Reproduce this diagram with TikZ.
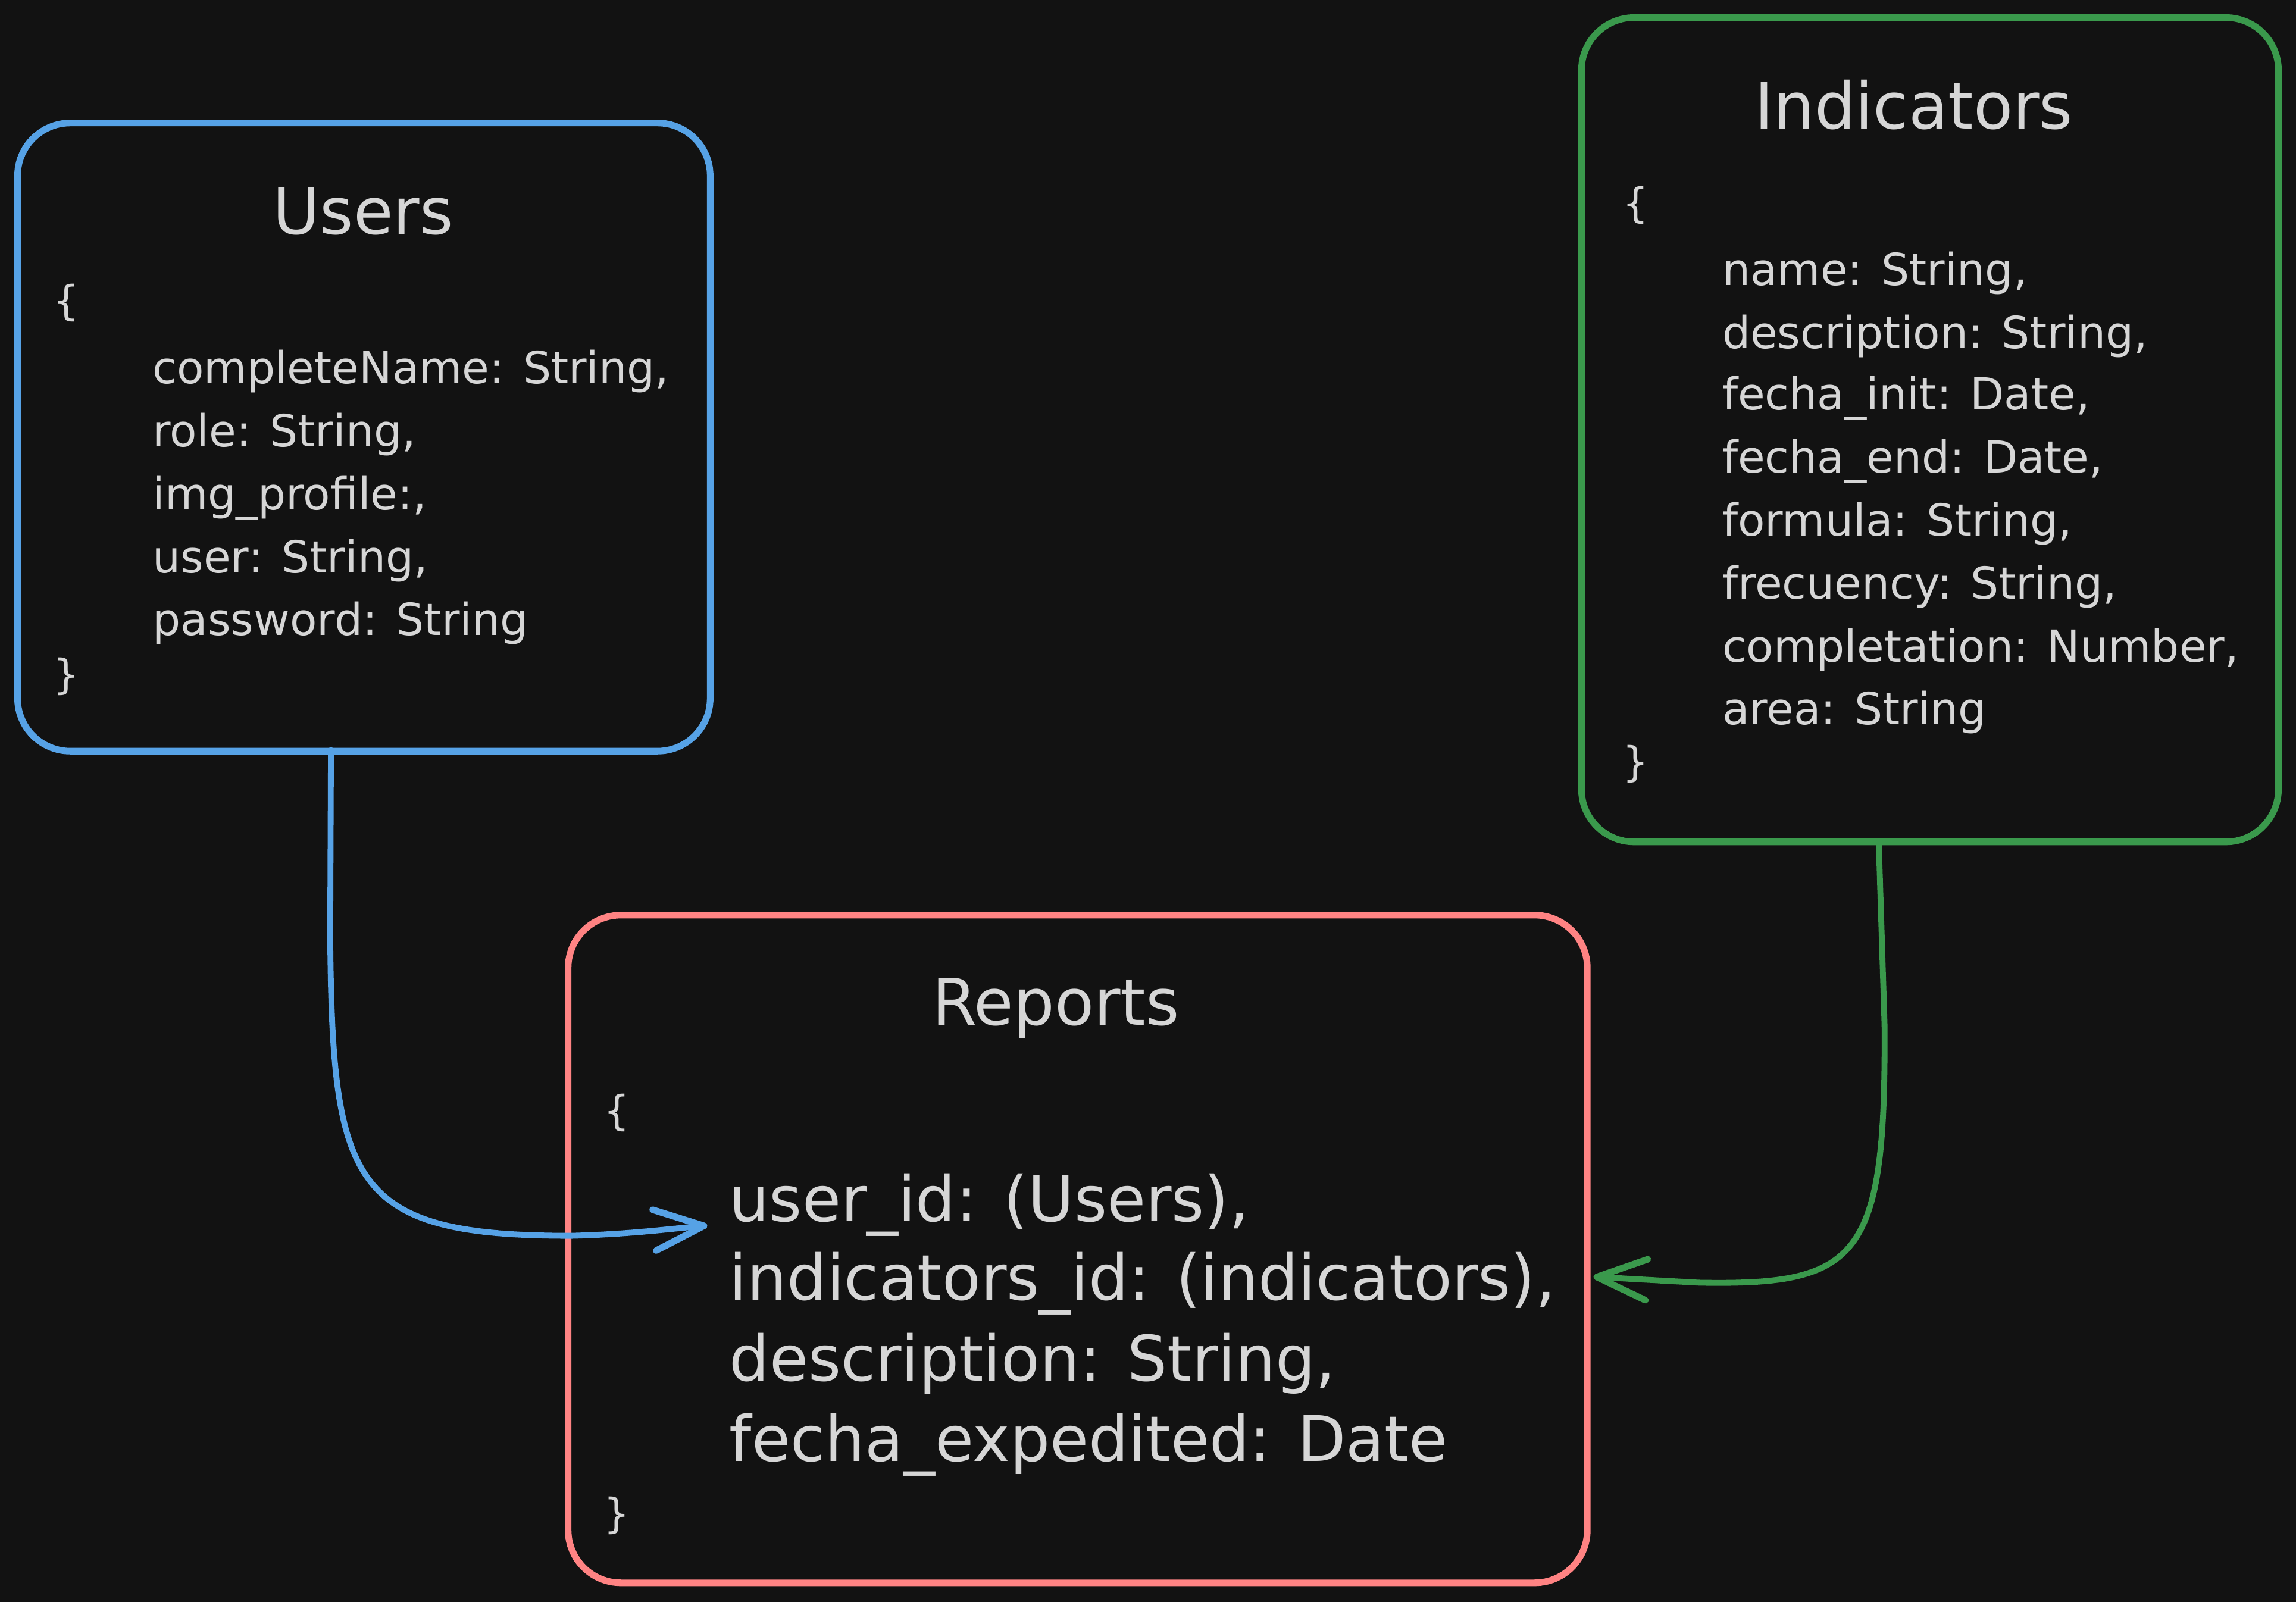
\documentclass[tikz,border=0pt]{standalone}
\usepackage{fontspec}
\setmainfont{DejaVu Sans}
\usetikzlibrary{arrows.meta}
\definecolor{bg}{HTML}{121212}
\definecolor{fg}{HTML}{D6D6D6}
\definecolor{ublue}{HTML}{56A2E6}
\definecolor{igreen}{HTML}{3A994C}
\definecolor{rpink}{HTML}{FF8383}
\begin{document}
\begin{tikzpicture}[x=1pt,y=-1pt,
  box/.style={draw=#1, line width=4.5pt, rounded corners=36pt, fill=bg, inner sep=0pt},
  ttl/.style={inner sep=0pt, text=fg, anchor=base, font=\fontsize{44}{52}\selectfont},
  bodytxt/.style={inner sep=0pt, text=fg, anchor=base west, font=\fontsize{30.2}{37}\selectfont},
  bigtxt/.style={inner sep=0pt, text=fg, anchor=base west, font=\fontsize{43}{50}\selectfont},
  brace/.style={inner sep=0pt, text=fg, anchor=west, font=\fontsize{28}{34}\selectfont},
  conn/.style={draw=#1, line width=4pt, line cap=round, line join=round,
    -{Straight Barb[length=34pt, width=28pt, round, line width=4.5pt]}}]
\useasboundingbox (0,0) rectangle (1568,1094);
\fill[bg] (0,0) rectangle (1568,1094);

% boxes
\node[box=ublue, minimum width=473pt, minimum height=429pt] (users) at (248.5,298.5) {};
\node[box=igreen, minimum width=476pt, minimum height=563pt] (indicators) at (1318,293.5) {};
\node[box=rpink, minimum width=696pt, minimum height=456pt] (reports) at (736,853) {};

% Users
\node[ttl] (usersT) at (248,160) {Users};
\node[brace] (uo) at (36,207) {\{};
\node[bodytxt] (u1) at (104,262) {completeName: String,};
\node[bodytxt] (u2) at (104,305) {role: String,};
\node[bodytxt] (u3) at (104,348) {img\_profile:,};
\node[bodytxt] (u4) at (104,391) {user: String,};
\node[bodytxt] (u5) at (104,434) {password: String};
\node[brace] (uc) at (36,462) {\}};

% Indicators
\node[ttl] (indT) at (1307,88) {Indicators};
\node[brace] (io) at (1108,140) {\{};
\node[bodytxt] (i1) at (1176,195) {name: String,};
\node[bodytxt] (i2) at (1176,238) {description: String,};
\node[bodytxt] (i3) at (1176,280) {fecha\_init: Date,};
\node[bodytxt] (i4) at (1176,323) {fecha\_end: Date,};
\node[bodytxt] (i5) at (1176,366) {formula: String,};
\node[bodytxt] (i6) at (1176,409) {frecuency: String,};
\node[bodytxt] (i7) at (1176,452) {completation: Number,};
\node[bodytxt] (i8) at (1176,495) {area: String};
\node[brace] (ic) at (1108,522) {\}};

% Reports
\node[ttl] (repT) at (721,700) {Reports};
\node[brace] (ro) at (412,760) {\{};
\node[bigtxt] (r1) at (498,834) {user\_id: (Users),};
\node[bigtxt] (r2) at (498,888) {indicators\_id: (indicators),};
\node[bigtxt] (r3) at (498,943) {description: String,};
\node[bigtxt] (r4) at (498,998) {fecha\_expedited: Date};
\node[brace] (rc) at (412,1035) {\}};

% connectors
\draw[conn=ublue] ([xshift=-22.5pt,yshift=3pt]users.south) -- (225.5,640)
  .. controls (227,810) and (240,844) .. (390,844)
  .. controls (430,843) and (460,839) .. ([xshift=-15pt,yshift=-3pt]r1.base west);
\draw[conn=igreen] ([xshift=-35pt,yshift=3pt]indicators.south) -- (1287,700)
  .. controls (1288,860) and (1270,878) .. (1160,876)
  -- ([xshift=2pt,yshift=-19pt]reports.east);
\end{tikzpicture}
\end{document}
